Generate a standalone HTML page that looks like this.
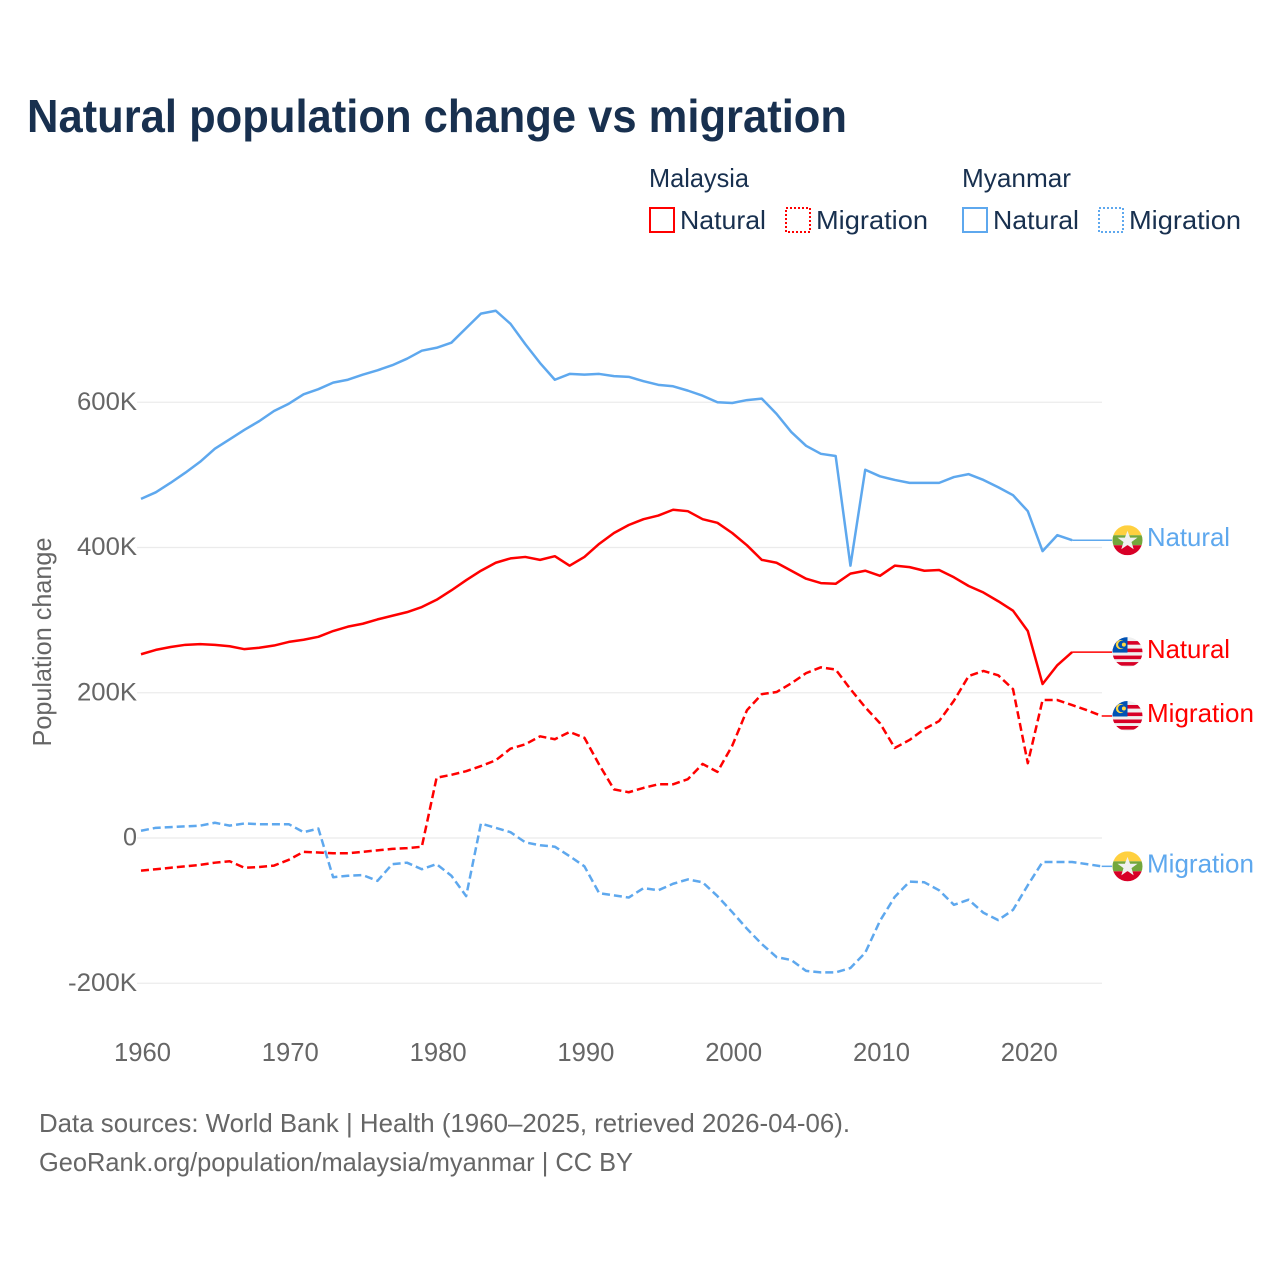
<!DOCTYPE html>
<html lang="en">
<head>
<meta charset="utf-8">
<title>Natural population change vs migration</title>
<style>
html,body{margin:0;padding:0;background:#fff;}
svg{display:block;}
text{font-family:"Liberation Sans",sans-serif;}
</style>
</head>
<body>
<svg id="chart" xmlns="http://www.w3.org/2000/svg" width="1280" height="1280" viewBox="0 0 1280 1280">
  <defs>
    <clipPath id="flag-clip"><circle cx="0" cy="0" r="15"/></clipPath>
  </defs>
  <rect width="1280" height="1280" fill="#fff"/>
  <text x="27" y="132" font-size="46" font-weight="700" fill="#18304f" textLength="820" lengthAdjust="spacingAndGlyphs">Natural population change vs migration</text>

  <g font-size="26" fill="#18304f">
    <text x="649" y="187" textLength="100" lengthAdjust="spacingAndGlyphs">Malaysia</text>
    <text x="962" y="187" textLength="109" lengthAdjust="spacingAndGlyphs">Myanmar</text>
    <g>
      <rect x="650" y="208" width="24" height="24" fill="none" stroke="#ff0000" stroke-width="2"/>
      <text x="680" y="229" textLength="86" lengthAdjust="spacingAndGlyphs">Natural</text>
    </g>
    <g>
      <rect x="786" y="208" width="24" height="24" fill="none" stroke="#ff0000" stroke-width="2" stroke-dasharray="2 2"/>
      <text x="816" y="229" textLength="112" lengthAdjust="spacingAndGlyphs">Migration</text>
    </g>
    <g>
      <rect x="963" y="208" width="24" height="24" fill="none" stroke="#5ea8ee" stroke-width="2"/>
      <text x="993" y="229" textLength="86" lengthAdjust="spacingAndGlyphs">Natural</text>
    </g>
    <g>
      <rect x="1099" y="208" width="24" height="24" fill="none" stroke="#5ea8ee" stroke-width="2" stroke-dasharray="2 2"/>
      <text x="1129" y="229" textLength="112" lengthAdjust="spacingAndGlyphs">Migration</text>
    </g>
  </g>

  <g id="grid"></g>
  <g id="y-ticks"></g>
  <g id="x-ticks"></g>
  <text transform="translate(51,642) rotate(-90)" text-anchor="middle" font-size="26" fill="#666" textLength="209" lengthAdjust="spacingAndGlyphs">Population change</text>
  <g id="series"></g>
  <g id="end-labels"></g>

  <text x="39" y="1132" font-size="26" fill="#666" textLength="811" lengthAdjust="spacingAndGlyphs">Data sources: World Bank | Health (1960–2025, retrieved 2026-04-06).</text>
  <text x="39" y="1171" font-size="26" fill="#666" textLength="594" lengthAdjust="spacingAndGlyphs">GeoRank.org/population/malaysia/myanmar | CC BY</text>
</svg>
<script>
const startYear = 1960;
const yTickValues = [600, 400, 200, 0, -200];
const yTickLabels = ["600K", "400K", "200K", "0", "-200K"];
const xTickYears = [1960, 1970, 1980, 1990, 2000, 2010, 2020];
const xTickLabels = ["1960", "1970", "1980", "1990", "2000", "2010", "2020"];

const malaysiaNatural = [253,259,263,266,267,266,264,260,262,265,270,273,277,285,291,295,301,306,311,318,328,341,355,368,379,385,387,383,388,375,387,405,420,431,439,444,452,450,439,434,420,403,383,379,368,357,351,350,364,368,361,375,373,368,369,359,347,338,326,313,285,212,238,256];
const malaysiaMigration = [-45,-43,-41,-39,-37,-34,-32,-41,-40,-38,-30,-19,-20,-21,-21,-19,-17,-15,-14,-12,83,87,92,99,107,123,129,140,136,146,138,101,67,63,69,74,74,81,102,91,127,176,198,201,213,227,235,232,205,180,158,124,135,150,161,189,223,230,224,205,103,190,190,183,176,168];
const myanmarNatural = [467,476,489,503,518,536,549,562,574,588,598,611,618,627,631,638,644,651,660,671,675,682,702,722,726,708,680,654,631,639,638,639,636,635,629,624,622,616,609,600,599,603,605,584,559,540,529,526,375,507,498,493,489,489,489,497,501,493,483,472,450,395,417,410];
const myanmarMigration = [10,14,15,16,17,21,17,20,19,19,19,8,13,-54,-52,-51,-59,-36,-34,-43,-36,-52,-80,20,14,8,-6,-10,-12,-25,-39,-76,-79,-82,-69,-72,-63,-57,-61,-80,-102,-125,-146,-164,-168,-183,-185,-185,-179,-158,-114,-81,-60,-61,-72,-92,-85,-103,-113,-99,-65,-33,-33,-33,-36,-39];

const SVGNS = "http://www.w3.org/2000/svg";
function xScale(year) { return 141 + (year - startYear) * 14.78; }
function yScale(value) { return 838 - value * 0.72625; }
function make(tag, attrs, parent) {
  const el = document.createElementNS(SVGNS, tag);
  for (const k in attrs) el.setAttribute(k, attrs[k]);
  parent.appendChild(el);
  return el;
}
function linePath(values) {
  return values.map(function (v, i) {
    return (i ? "L" : "M") + xScale(startYear + i).toFixed(2) + " " + yScale(v).toFixed(2);
  }).join(" ");
}
function tickLabelWidth(label) {
  if (label.length > 4) return 69;
  if (label.length > 1) return 60;
  return 14;
}

const gridLayer = document.getElementById("grid");
const yTickLayer = document.getElementById("y-ticks");
const xTickLayer = document.getElementById("x-ticks");
const seriesLayer = document.getElementById("series");
const labelLayer = document.getElementById("end-labels");

yTickValues.forEach(function (v, i) {
  const gl = make("line", {x1: 137, x2: 1102, y1: yScale(v), y2: yScale(v), stroke: "#ebebeb", "stroke-width": 1.3}, gridLayer);
  
  
  const label = yTickLabels[i];
  const t = make("text", {x: 137, y: yScale(v) + 7.5, "text-anchor": "end", "font-size": 25, fill: "#666", textLength: tickLabelWidth(label), lengthAdjust: "spacingAndGlyphs"}, yTickLayer);
  t.textContent = label;
  
  
});

xTickYears.forEach(function (yr, i) {
  const t = make("text", {x: xScale(yr) + 1.5, y: 1061, "text-anchor": "middle", "font-size": 26, fill: "#666", textLength: 57, lengthAdjust: "spacingAndGlyphs"}, xTickLayer);
  t.textContent = xTickLabels[i];
  
  
});

function drawSeries(values, color, dashed, name) {
  const p = make("path", {d: linePath(values), fill: "none", stroke: color, "stroke-width": 2.5, "stroke-linejoin": "round"}, seriesLayer);
  if (dashed) p.setAttribute("stroke-dasharray", "8 4");
  
  
}
drawSeries(myanmarNatural, "#5ea8ee", false, "line-myanmar-natural");
drawSeries(malaysiaNatural, "#ff0000", false, "line-malaysia-natural");
drawSeries(malaysiaMigration, "#ff0000", true, "line-malaysia-migration");
drawSeries(myanmarMigration, "#5ea8ee", true, "line-myanmar-migration");

function drawFlag(country, cy) {
  const g = make("g", {transform: "translate(1127.5," + cy.toFixed(2) + ")"}, labelLayer);
  
  
  const c = make("g", {"clip-path": "url(#flag-clip)"}, g);
  if (country === "myanmar") {
    make("rect", {x: -15, y: -15, width: 30, height: 10, fill: "#ffd03f"}, c);
    make("rect", {x: -15, y: -5, width: 30, height: 10, fill: "#73a73c"}, c);
    make("rect", {x: -15, y: 5, width: 30, height: 10, fill: "#d80027"}, c);
    make("polygon", {points: "0,-9.5 2.6,-2.6 10,-2.6 4,1.8 6.2,9 0,4.7 -6.2,9 -4,1.8 -10,-2.6 -2.6,-2.6", fill: "#f0f0f0"}, c);
  } else {
    make("rect", {x: -15, y: -15, width: 30, height: 30, fill: "#f0f0f0"}, c);
    [-11, -3.5, 3.5, 10].forEach(function (sy) {
      make("rect", {x: -15, y: sy, width: 30, height: 3.6, fill: "#d80027"}, c);
    });
    make("rect", {x: -15, y: -15, width: 15, height: 15.5, fill: "#0052b4"}, c);
    make("circle", {cx: -7, cy: -7.5, r: 4.6, fill: "#ffda44"}, c);
    make("circle", {cx: -5.6, cy: -7.5, r: 3.8, fill: "#0052b4"}, c);
    make("circle", {cx: -3.6, cy: -7.5, r: 2, fill: "#ffda44"}, c);
  }
}

function drawEndLabel(values, color, country, labelText, dashed, width) {
  const i = values.length - 1;
  const lastX = xScale(startYear + i);
  const lastY = yScale(values[i]);
  const leader = make("line", {x1: lastX, y1: lastY, x2: 1112, y2: lastY, stroke: color, "stroke-width": 1.5}, labelLayer);
  
  
  drawFlag(country, lastY);
  const t = make("text", {x: 1147, y: lastY + 6, "font-size": 26, fill: color, textLength: width, lengthAdjust: "spacingAndGlyphs"}, labelLayer);
  t.textContent = labelText;
  
  
}
drawEndLabel(myanmarNatural, "#5ea8ee", "myanmar", "Natural", false, 83);
drawEndLabel(malaysiaNatural, "#ff0000", "malaysia", "Natural", false, 83);
drawEndLabel(malaysiaMigration, "#ff0000", "malaysia", "Migration", true, 107);
drawEndLabel(myanmarMigration, "#5ea8ee", "myanmar", "Migration", true, 107);
</script>
</body>
</html>
